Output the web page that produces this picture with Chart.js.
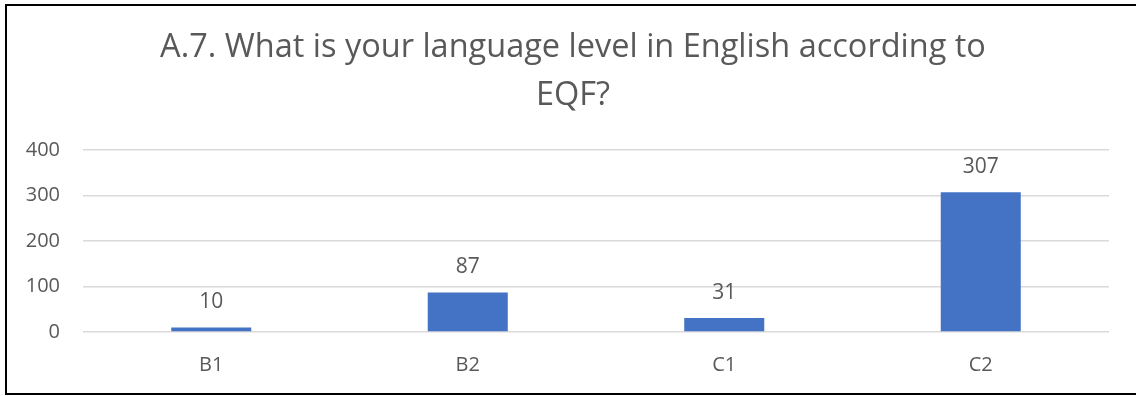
<!DOCTYPE html>
<html>
<head>
<meta charset="utf-8">
<script src="https://cdn.jsdelivr.net/npm/chart.js@4"></script>
<style>
  html, body { margin: 0; padding: 0; background: #fff; overflow: hidden; width: 1136px; height: 396px; }
  #frame {
    position: absolute; left: 5px; top: 4px;
    width: 1129px; height: 387px;
    border: 2px solid #000; border-right: none;
    box-sizing: content-box;
  }
  #wrap { position: absolute; left: 0; top: 0; width: 1136px; height: 396px; }
</style>
</head>
<body>
<div id="frame"></div>
<div id="wrap"><canvas id="c" width="1136" height="396"></canvas></div>
<script>
// English level (EQF) survey responses
const categories = ["B1", "B2", "C1", "C2"];
const counts = [10, 87, 31, 307];
const yTicks = [0, 100, 200, 300, 400];
const titleLines = ["A.7. What is your language level in English according to", "EQF?"];

const FONT = "'Open Sans', sans-serif";
const TEXT = "#595959";

// Writes each bar's value above it
const valueLabels = {
  id: "valueLabels",
  afterDatasetsDraw(chart) {
    const ctx = chart.ctx;
    const meta = chart.getDatasetMeta(0);
    ctx.save();
    ctx.font = "21px " + FONT;
    ctx.fillStyle = TEXT;
    ctx.textAlign = "center";
    ctx.textBaseline = "middle";
    meta.data.forEach((bar, i) => {
      ctx.fillText(String(counts[i]), bar.x, bar.y - 25);
    });
    ctx.restore();
  }
};

new Chart(document.getElementById("c"), {
  type: "bar",
  data: {
    labels: categories,
    datasets: [{
      data: counts,
      backgroundColor: "#4472C4",
      borderWidth: 0,
      barPercentage: 0.312,
      categoryPercentage: 1.0
    }]
  },
  options: {
    responsive: false,
    animation: false,
    layout: { padding: { left: 10, right: 0, top: 0, bottom: 0 } },
    plugins: {
      legend: { display: false },
      tooltip: { enabled: false },
      title: {
        display: true,
        text: titleLines,
        color: TEXT,
        font: { family: FONT, size: 32.5, weight: "normal", lineHeight: 1.477 },
        padding: { top: 24, bottom: 30 }
      }
    },
    scales: {
      x: {
        grid: { display: false, drawTicks: false },
        border: { display: false },
        ticks: { color: TEXT, font: { family: FONT, size: 20 }, padding: 21 },
        afterFit(s) { s.height = 64; }
      },
      y: {
        min: 0, max: 400,
        afterBuildTicks(s) { s.ticks = yTicks.map(v => ({ value: v })); },
        grid: { color: "#d9d9d9", lineWidth: 1.5, drawTicks: false },
        border: { display: false },
        ticks: { color: TEXT, font: { family: FONT, size: 20 }, padding: 23 },
        afterFit(s) { s.width = 73; }
      },
      // empty right-hand margin for the plot
      yRight: {
        position: "right",
        min: 0, max: 400,
        grid: { display: false, drawTicks: false },
        border: { display: false },
        ticks: { display: false },
        afterFit(s) { s.width = 27; }
      }
    }
  },
  plugins: [valueLabels]
});
</script>
</body>
</html>
